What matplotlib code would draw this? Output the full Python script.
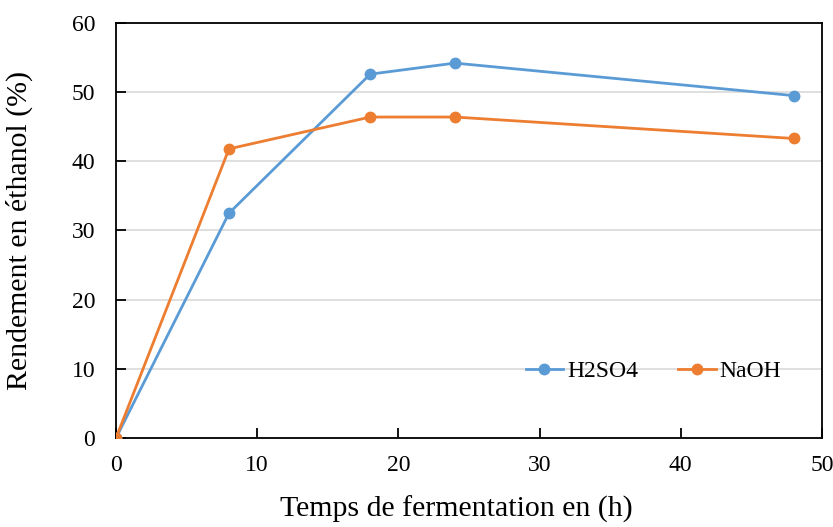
import matplotlib
matplotlib.use("Agg")
import matplotlib.pyplot as plt

plt.rcParams['font.family'] = ['Liberation Serif', 'DejaVu Serif']

time_h = [0, 8, 18, 24, 48]
h2so4 = [0, 32.5, 52.6, 54.2, 49.5]
naoh = [0, 41.8, 46.4, 46.4, 43.3]
x_ticks = [0, 10, 20, 30, 40, 50]
y_ticks = [0, 10, 20, 30, 40, 50, 60]

blue = '#5B9BD5'
orange = '#ED7D31'

fig = plt.figure(figsize=(8.33, 5.27), dpi=100)
ax = fig.add_axes([0.1393, 0.1689, 0.8475, 0.7875])

ax.plot(time_h, h2so4, color=blue, lw=2, marker='o', ms=7.5, label='H2SO4', zorder=3)
ax.plot(time_h, naoh, color=orange, lw=2, marker='o', ms=7.5, label='NaOH', zorder=3)

ax.set_xlim(0, 50)
ax.set_ylim(0, 60)
ax.set_xticks(x_ticks)
ax.set_yticks(y_ticks)
ax.yaxis.grid(True, color='#D9D9D9', lw=1.2)
ax.set_axisbelow(True)
for s in ax.spines.values():
    s.set_color('black')
    s.set_linewidth(1.3)
ax.tick_params(axis='both', direction='in', length=7, width=1.3, labelsize=17, colors='black')
ax.tick_params(axis='x', pad=12)
ax.tick_params(axis='y', pad=15)

ax.set_xlabel('Temps de fermentation en (h)', fontsize=21.5)
ax.set_ylabel('Rendement en éthanol (%)', fontsize=21.5)
ax.xaxis.set_label_coords(0.482, -0.138)
ax.yaxis.set_label_coords(-0.117, 0.5)

ax.legend(loc='center', bbox_to_anchor=(0.761, 0.16), ncol=2, frameon=False,
          fontsize=17, handlelength=1.6, handletextpad=0.15, columnspacing=1.7)

fig.savefig('out.png', dpi=100)
